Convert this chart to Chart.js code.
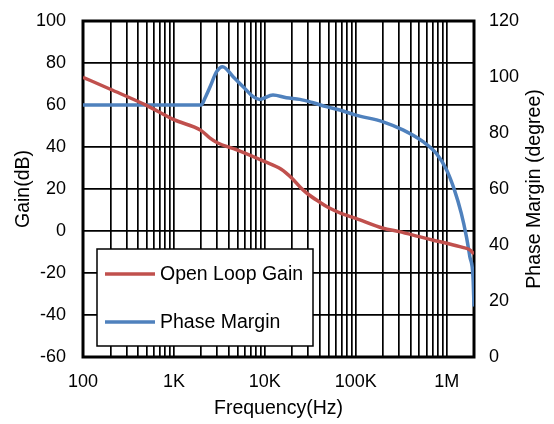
<!DOCTYPE html>
<html>
<head>
<meta charset="utf-8">
<script src="https://cdn.jsdelivr.net/npm/chart.js@4.4.1/dist/chart.umd.min.js"></script>
<style>
  body { margin: 0; background: #fff; }
  #wrap { width: 554px; height: 424px; }
</style>
</head>
<body>
<div id="wrap"><canvas id="myChart"></canvas></div>
<script>
// values
const gainFreq = [100, 200, 500, 1000, 2000, 2500, 3000, 5000, 10000, 15000, 20000, 25000, 30000, 40000, 50000, 70000, 100000, 200000, 300000, 500000, 700000, 1000000, 1500000, 1800000, 2000000];
const gainDb = [73.2, 67.5, 59.8, 53, 47.8, 44.2, 42, 38.5, 33, 29.5, 25, 20.5, 17.5, 13.8, 11.2, 8.3, 6, 1.3, -0.3, -2.7, -4.3, -5.8, -7.8, -9, -11];

const phaseFreq = [100, 2000, 2200, 2500, 2950, 3430, 4480, 5780, 7440, 8800, 12300, 17300, 24300, 34000, 47600, 66700, 100000, 200000, 330000, 550000, 770000, 1000000, 1220000, 1450000, 1650000, 1800000, 1950000, 2000000];
const phaseDeg = [90, 90, 92.5, 96.5, 101.9, 103.7, 100.1, 96.5, 93, 92, 93.6, 92.6, 92, 90.8, 89.4, 88.2, 86.4, 84, 81.1, 76.9, 72.7, 66.8, 59.6, 51.3, 43, 35.8, 28.7, 18];

const decadeTicks = [100, 1000, 10000, 100000, 1000000];
const decadeLabels = ['100', '1K', '10K', '100K', '1M'];
const freqMin = 100;
const freqMax = 2000000;

const redColor = '#C0504D';
const blueColor = '#4F81BD';
const fontFamily = "'Liberation Sans', Arial, sans-serif";

// grid lines at 1..9 of every decade
const xGridTicks = [];
decadeTicks.forEach(d => {
    for (let m = 1; m <= 9; m++) {
        if (d * m <= freqMax) xGridTicks.push(d * m);
    }
});
xGridTicks.push(freqMax);

const ctx = document.getElementById('myChart');

const bgPlugin = {
    id: 'bg',
    beforeDraw(chart) {
        const c = chart.ctx;
        c.save();
        c.fillStyle = '#fff';
        c.fillRect(0, 0, chart.width, chart.height);
        c.restore();
    }
};

const framePlugin = {
    id: 'frame',
    beforeDatasetsDraw(chart) {
        const a = chart.chartArea;
        const c = chart.ctx;
        c.save();
        c.strokeStyle = '#000';
        c.lineWidth = 3;
        c.strokeRect(a.left, a.top, a.right - a.left, a.bottom - a.top);
        c.restore();
    }
};

const boxLegendPlugin = {
    id: 'boxLegend',
    afterDatasetsDraw(chart) {
        const a = chart.chartArea;
        const c = chart.ctx;
        const x0 = a.left + 14, y0 = a.top + 228, w = 216, h = 97;
        c.save();
        c.fillStyle = '#fff';
        c.fillRect(x0, y0, w, h);
        c.strokeStyle = '#000';
        c.lineWidth = 1.5;
        c.strokeRect(x0, y0, w, h);
        c.font = '19.5px ' + fontFamily;
        c.textBaseline = 'middle';
        c.fillStyle = '#000';
        const rows = [y0 + 25, y0 + 73];
        chart.data.datasets.forEach((ds, i) => {
            c.strokeStyle = ds.borderColor;
            c.lineWidth = 3.5;
            c.beginPath();
            c.moveTo(x0 + 8, rows[i]);
            c.lineTo(x0 + 58, rows[i]);
            c.stroke();
            c.fillText(ds.label, x0 + 63, rows[i] + 1);
        });
        c.restore();
    }
};

const rightTitlePlugin = {
    id: 'rightTitle',
    afterDraw(chart) {
        const a = chart.chartArea;
        const c = chart.ctx;
        c.save();
        c.translate(535, (a.top + a.bottom) / 2);
        c.rotate(-Math.PI / 2);
        c.font = '19.5px ' + fontFamily;
        c.fillStyle = '#000';
        c.textAlign = 'center';
        c.textBaseline = 'middle';
        c.fillText('Phase Margin (degree)', 0, 0);
        c.restore();
    }
};

function fixVertical(width) {
    return scale => {
        scale.width = width;
        scale.paddingTop = 0;
        scale.paddingBottom = 0;
    };
}

const myChart = new Chart(ctx, {
    type: 'line',
    data: {
        datasets: [{
            label: 'Open Loop Gain',
            data: gainFreq.map((f, i) => ({x: f, y: gainDb[i]})),
            borderColor: redColor,
            borderWidth: 3.5,
            pointRadius: 0,
            cubicInterpolationMode: 'monotone',
            yAxisID: 'y'
        }, {
            label: 'Phase Margin',
            data: phaseFreq.map((f, i) => ({x: f, y: phaseDeg[i]})),
            borderColor: blueColor,
            borderWidth: 3.5,
            pointRadius: 0,
            cubicInterpolationMode: 'monotone',
            yAxisID: 'y1'
        }]
    },
    options: {
        responsive: true,
        maintainAspectRatio: false,
        animation: false,
        layout: { padding: { top: 21, left: 0, right: 0, bottom: 0 } },
        plugins: {
            legend: { display: false },
            tooltip: { enabled: false }
        },
        scales: {
            x: {
                type: 'logarithmic',
                min: freqMin,
                max: freqMax,
                afterBuildTicks: scale => {
                    scale.ticks = xGridTicks.map(v => ({value: v}));
                },
                afterFit: scale => {
                    scale.height = 67;
                    scale.paddingLeft = 0;
                    scale.paddingRight = 0;
                },
                grid: { color: '#000', lineWidth: 1.7, drawTicks: false },
                border: { display: false },
                ticks: {
                    autoSkip: false,
                    maxRotation: 0,
                    padding: 14,
                    color: '#000',
                    font: { family: fontFamily, size: 18 },
                    callback: value => {
                        const k = decadeTicks.indexOf(value);
                        return k >= 0 ? decadeLabels[k] : '';
                    }
                },
                title: {
                    display: true,
                    text: 'Frequency(Hz)',
                    color: '#000',
                    font: { family: fontFamily, size: 19.5 },
                    padding: { top: 0, bottom: 4 }
                }
            },
            y: {
                position: 'left',
                min: -60,
                max: 100,
                afterFit: fixVertical(83),
                grid: { color: '#000', lineWidth: 1.7, drawTicks: false },
                border: { display: false },
                ticks: {
                    stepSize: 20,
                    padding: 17,
                    color: '#000',
                    font: { family: fontFamily, size: 18 }
                },
                title: {
                    display: true,
                    text: 'Gain(dB)',
                    color: '#000',
                    font: { family: fontFamily, size: 19.5 },
                    padding: { top: 12, bottom: 0 }
                }
            },
            y1: {
                position: 'right',
                min: 0,
                max: 120,
                afterFit: fixVertical(80),
                grid: { display: false, drawTicks: false },
                border: { display: false },
                ticks: {
                    stepSize: 20,
                    padding: 15,
                    color: '#000',
                    font: { family: fontFamily, size: 18 }
                }
            }
        }
    },
    plugins: [bgPlugin, framePlugin, boxLegendPlugin, rightTitlePlugin]
});
</script>
</body>
</html>
